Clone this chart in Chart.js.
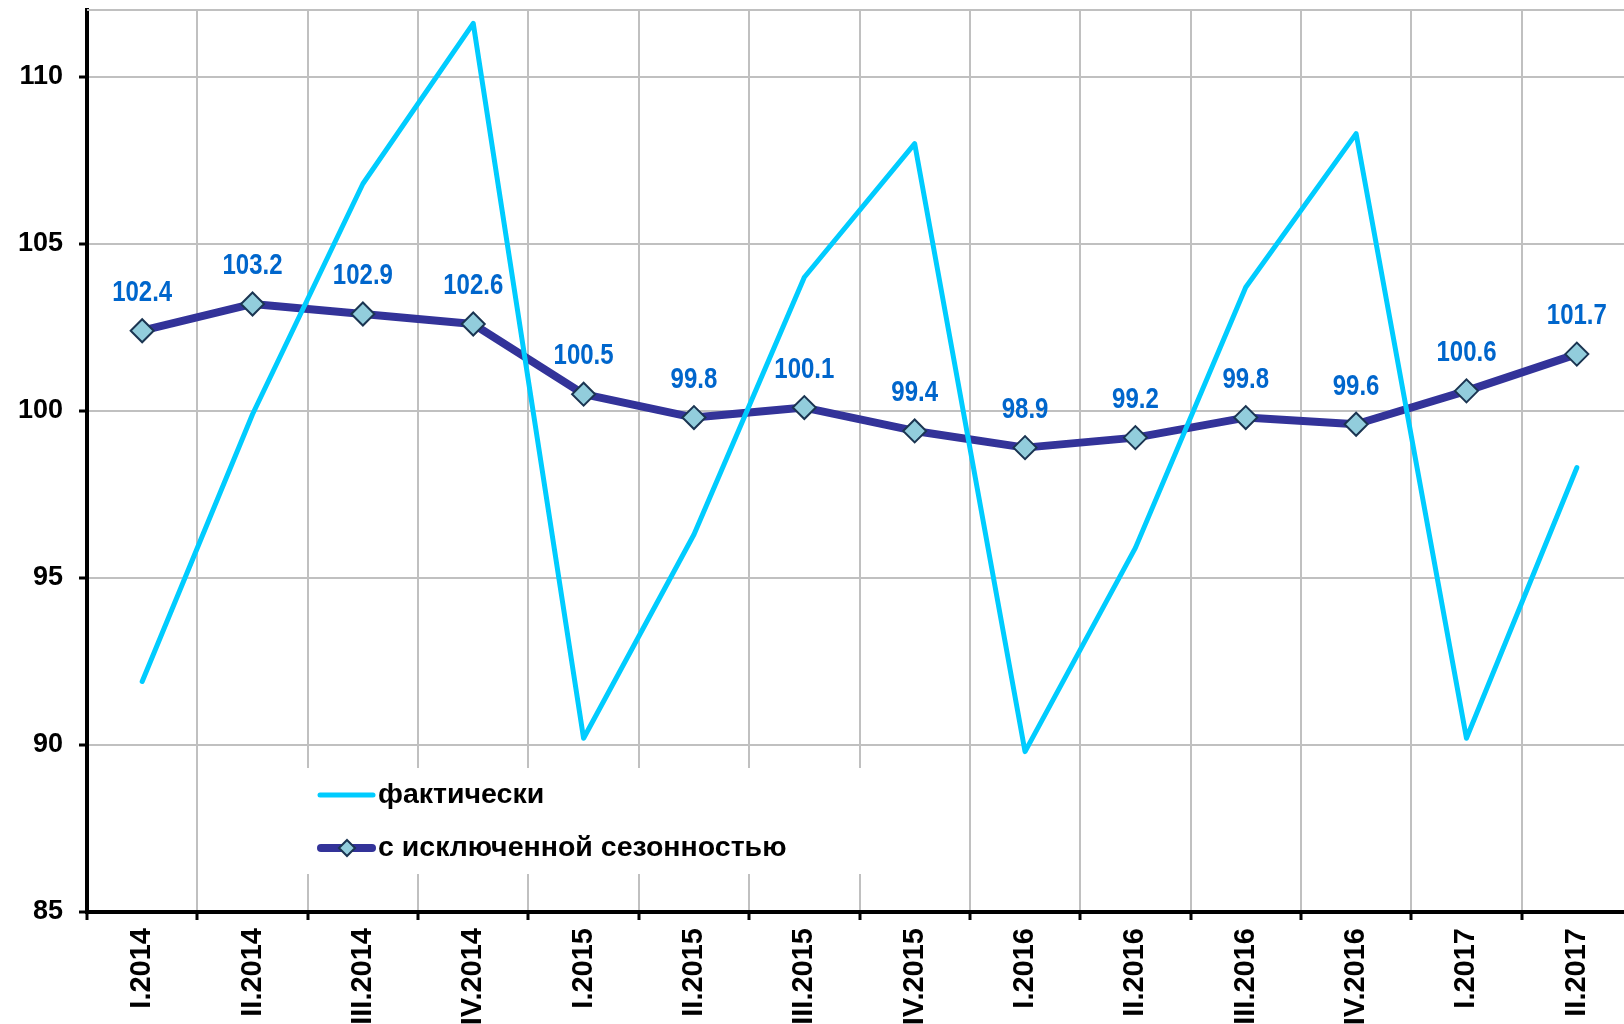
<!DOCTYPE html>
<html>
<head>
<meta charset="utf-8">
<script src="https://cdn.jsdelivr.net/npm/chart.js@4.4.0/dist/chart.umd.min.js"></script>
<style>
  html, body { margin: 0; padding: 0; background: #fff; overflow: hidden; }
  #wrap { width: 1640px; height: 1024px; position: relative; }
</style>
</head>
<body>
<div id="wrap"><canvas id="chart"></canvas></div>
<script>
// квартальные данные
const quarters = ['I.2014','II.2014','III.2014','IV.2014','I.2015','II.2015','III.2015','IV.2015',
                  'I.2016','II.2016','III.2016','IV.2016','I.2017','II.2017'];
const actual   = [91.9, 99.9, 106.8, 111.6, 90.2, 96.3, 104.0, 108.0, 89.8, 95.9, 103.7, 108.3, 90.2, 98.3];
const seasAdj  = [102.4, 103.2, 102.9, 102.6, 100.5, 99.8, 100.1, 99.4, 98.9, 99.2, 99.8, 99.6, 100.6, 101.7];
const seriesNames = ['фактически', 'с исключенной сезонностью'];
const yMin = 85, yMax = 112, yStep = 5;

const FONT = '"Liberation Sans", Arial, sans-serif';

// белая подложка легенды, верхняя линия сетки и сама легенда
const legendBox = {
  id: 'legendBox',
  beforeDatasetsDraw(chart) {
    const c = chart.ctx;
    const a = chart.chartArea;
    c.save();
    c.strokeStyle = '#C0C0C0';
    c.lineWidth = 2;
    c.beginPath(); c.moveTo(a.left, a.top); c.lineTo(a.right, a.top); c.stroke();
    c.fillStyle = '#fff';
    c.fillRect(300, 768, 572, 106);
    c.restore();
  },
  afterDraw(chart) {
    const c = chart.ctx;
    c.save();
    c.lineCap = 'round';
    // фактически
    c.strokeStyle = '#00CCFF';
    c.lineWidth = 5;
    c.beginPath(); c.moveTo(320, 795); c.lineTo(373, 795); c.stroke();
    // с исключенной сезонностью
    c.strokeStyle = '#333399';
    c.lineWidth = 8;
    c.beginPath(); c.moveTo(321, 848); c.lineTo(372, 848); c.stroke();
    c.beginPath();
    c.moveTo(347, 840); c.lineTo(355, 848); c.lineTo(347, 856); c.lineTo(339, 848); c.closePath();
    c.fillStyle = '#92CDDC'; c.fill();
    c.strokeStyle = '#1B3552'; c.lineWidth = 2; c.lineCap = 'butt'; c.stroke();

    c.fillStyle = '#000';
    c.font = 'bold 28.5px ' + FONT;
    c.textAlign = 'left';
    c.textBaseline = 'middle';
    c.fillText(seriesNames[0], 378, 795);
    c.fillText(seriesNames[1], 378, 848);
    c.restore();
  }
};

// подписи значений над маркерами
const valueLabels = {
  id: 'valueLabels',
  afterDatasetsDraw(chart) {
    const meta = chart.getDatasetMeta(1);
    const c = chart.ctx;
    c.save();
    c.font = 'bold 30px ' + FONT;
    c.fillStyle = '#0066CC';
    c.textAlign = 'center';
    c.textBaseline = 'middle';
    meta.data.forEach((pt, i) => {
      c.save();
      c.translate(pt.x, pt.y - 38);
      c.scale(0.8, 1);
      c.fillText(seasAdj[i].toFixed(1), 0, 0);
      c.restore();
    });
    c.restore();
  }
};

new Chart(document.getElementById('chart'), {
  type: 'line',
  data: {
    labels: quarters,
    datasets: [
      {
        label: seriesNames[0],
        data: actual,
        borderColor: '#00CCFF',
        borderWidth: 5,
        borderJoinStyle: 'round',
        borderCapStyle: 'round',
        pointRadius: 0,
        tension: 0
      },
      {
        label: seriesNames[1],
        data: seasAdj,
        borderColor: '#333399',
        borderWidth: 8,
        borderJoinStyle: 'round',
        pointStyle: 'rectRot',
        pointRadius: 11.5,
        pointBackgroundColor: '#92CDDC',
        pointBorderColor: '#1B3552',
        pointBorderWidth: 2,
        tension: 0
      }
    ]
  },
  options: {
    responsive: true,
    maintainAspectRatio: false,
    animation: false,
    layout: { autoPadding: false, padding: { top: 10, right: 8, left: 0, bottom: 0 } },
    scales: {
      x: {
        offset: true,
        afterFit: s => { s.height = 112; },
        ticks: {
          autoSkip: false,
          maxRotation: 90,
          minRotation: 90,
          padding: 8,
          color: '#000',
          font: { family: FONT, size: 29, weight: 'bold' }
        },
        grid: { offset: true, color: '#C0C0C0', lineWidth: 2, tickLength: 8, tickColor: '#000', tickWidth: 3 },
        border: { color: '#000', width: 4 }
      },
      y: {
        min: yMin,
        max: yMax,
        afterFit: s => { s.width = 87; s.paddingTop = 0; s.paddingBottom = 0; },
        ticks: {
          stepSize: yStep,
          includeBounds: false,
          padding: 16,
          color: '#000',
          font: { family: FONT, size: 27, weight: 'bold' }
        },
        grid: { color: '#C0C0C0', lineWidth: 2, tickLength: 8, tickWidth: 3, tickColor: '#000' },
        border: { color: '#000', width: 4 }
      }
    },
    plugins: {
      legend: { display: false },
      tooltip: { enabled: false }
    }
  },
  plugins: [legendBox, valueLabels]
});
</script>
</body>
</html>
